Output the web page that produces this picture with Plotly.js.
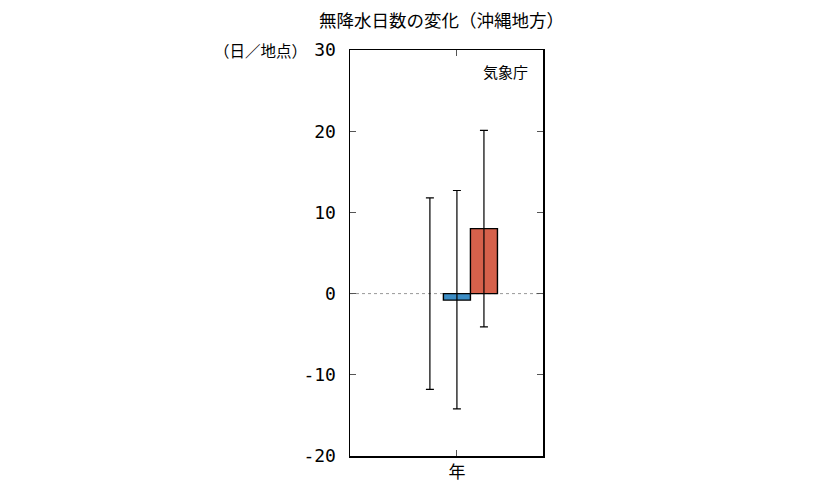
<!DOCTYPE html>
<html><head><meta charset="utf-8">
<script src="https://cdn.plot.ly/plotly-3.0.1.min.js"></script>
<style>body{margin:0;background:#fff}#c{width:833px;height:498px}</style>
</head><body><div id="c"></div>
<script>
const categories = ['年'];
const seriesNames = ['現在', '2℃上昇', '4℃上昇'];
const values = [0, -0.8, 8.0];
const errPlus = [11.8, 13.5, 12.1];
const errMinus = [11.8, 13.4, 12.1];
const colors = ['#999999', '#3c8dc5', '#d6614b'];
const lineWidths = [0, 1.4, 1.4];
const yTicks = [-20, -10, 0, 10, 20, 30];

const font = "'Noto Sans CJK JP', sans-serif";
const traces = values.map((v, i) => ({
  type: 'bar', name: seriesNames[i], x: categories, y: [v],
  marker: {color: colors[i], line: {color: '#000', width: lineWidths[i]}},
  error_y: {type: 'data', symmetric: false, array: [errPlus[i]], arrayminus: [errMinus[i]],
            color: '#000', thickness: 1.2, width: 4},
  showlegend: false, hoverinfo: 'none'
}));

const layout = {
  width: 833, height: 498,
  margin: {l: 350, r: 290, t: 50, b: 42},
  paper_bgcolor: '#fff', plot_bgcolor: '#fff',
  barmode: 'group', bargap: 0.58, bargroupgap: 0,
  font: {family: font, color: '#000', size: 15},
  title: {text: '無降水日数の変化（沖縄地方）', xref: 'container', x: 0.53, xanchor: 'center', y: 0.958, yanchor: 'middle',
          font: {family: font, size: 17.5, color: '#000'}},
  xaxis: {type: 'category', range: [-0.554, 0.446], showline: true, linecolor: '#000', linewidth: 1.5,
          mirror: 'ticks', ticks: 'inside', ticklen: 6, tickcolor: '#555', showgrid: false,
          zeroline: false, tickfont: {family: font, size: 17}},
  yaxis: {range: [-20, 30], tickvals: yTicks, ticktext: yTicks.map(String),
          showline: true, linecolor: '#000', linewidth: 1.5, mirror: 'ticks', ticks: 'inside',
          ticklen: 6, tickcolor: '#555', showgrid: false, zeroline: false,
          ticklabelstandoff: 9, tickfont: {family: "'DejaVu Sans Mono', monospace", size: 18}},
  shapes: [{type: 'line', xref: 'paper', yref: 'y', x0: 0, x1: 1, y0: 0, y1: 0,
            line: {color: '#999', width: 1, dash: 'dot'}, layer: 'below'}],
  annotations: [
    {text: '（日／地点）', xref: 'paper', yref: 'paper', x: -0.215, y: 1.0, xanchor: 'right', yanchor: 'middle',
     showarrow: false, font: {family: font, size: 15.5}},
    {text: '気象庁', xref: 'paper', yref: 'paper', x: 0.935, y: 0.947, xanchor: 'right', yanchor: 'middle',
     showarrow: false, font: {family: font, size: 15}}
  ]
};
Plotly.newPlot('c', traces, layout, {staticPlot: true});
</script></body></html>
